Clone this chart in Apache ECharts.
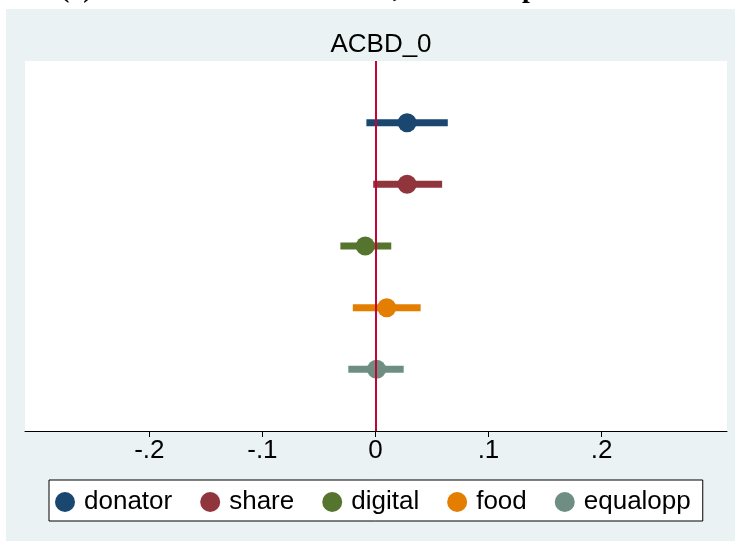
<!DOCTYPE html>
<html>
<head>
<meta charset="utf-8">
<script src="https://cdn.jsdelivr.net/npm/echarts@6/dist/echarts.min.js"></script>
<style>html,body{margin:0;padding:0;background:#fff;}#c{width:735px;height:541px;}</style>
</head>
<body>
<div id="c"></div>
<script>
// ---- data ----
const groups   = ['donator', 'share', 'digital', 'food', 'equalopp'];
const estimate = [0.028, 0.028, -0.009, 0.010, 0.001];
const ciLow    = [-0.008, -0.002, -0.031, -0.020, -0.024];
const ciHigh   = [0.064, 0.059, 0.014, 0.040, 0.025];
const rowPos   = [5, 4, 3, 2, 1];
const tickValues = [-0.2, -0.1, 0, 0.1, 0.2];
const tickLabels = ['-.2', '-.1', '0', '.1', '.2'];
const panelTitle = 'ACBD_0';
const colors = ['#1a476f', '#90353b', '#55752f', '#e37e00', '#6e8e84'];

const font = '"Liberation Sans", Arial, sans-serif';
const chart = echarts.init(document.getElementById('c'), null, {renderer: 'canvas'});

const series = [];
groups.forEach((g, i) => {
  series.push({
    type: 'custom',
    name: g + '_ci',
    data: [[ciLow[i], ciHigh[i], rowPos[i]]],
    renderItem: function (params, api) {
      const a = api.coord([api.value(0), api.value(2)]);
      const b = api.coord([api.value(1), api.value(2)]);
      return {
        type: 'rect',
        shape: {x: a[0], y: a[1] - 3.5, width: b[0] - a[0], height: 7},
        style: {fill: colors[i]}
      };
    },
    z: 3,
    silent: true
  });
});
groups.forEach((g, i) => {
  series.push({
    type: 'scatter',
    name: g,
    data: [[estimate[i], rowPos[i]]],
    symbol: 'circle',
    symbolSize: 19,
    itemStyle: {color: colors[i], opacity: 1},
    z: 4,
    silent: true
  });
});
// zero reference line
series.push({
  type: 'line',
  name: 'zero',
  data: [],
  markLine: {
    silent: true,
    symbol: 'none',
    label: {show: false},
    lineStyle: {color: '#c10534', width: 2, type: 'solid'},
    data: [{xAxis: 0}]
  },
  z: 2
});

const serif = 'bold 28px "Liberation Serif", serif';
chart.setOption({
  animation: false,
  backgroundColor: '#ffffff',
  graphic: [
    {type: 'rect', z: -10, shape: {x: 6, y: 9, width: 729, height: 532}, style: {fill: '#eaf2f3'}},
    {type: 'text', z: -11, x: 60, y: -24, style: {text: '(a)', font: serif, fill: '#000'}},
    {type: 'text', z: -11, x: 393, y: -24, style: {text: ',', font: serif, fill: '#000'}},
    {type: 'text', z: -11, x: 522, y: -24, style: {text: 'p', font: serif, fill: '#000'}}
  ],
  title: {
    text: panelTitle,
    left: 376, textAlign: 'center',
    top: 27,
    textStyle: {fontFamily: font, fontSize: 26, fontWeight: 'normal', color: '#000'}
  },
  grid: {
    left: 25, right: 8, top: 61, bottom: 110,
    show: true, backgroundColor: '#ffffff', borderWidth: 0
  },
  xAxis: {
    type: 'value',
    min: -0.31, max: 0.311,
    axisLine: {show: true, onZero: false, lineStyle: {color: '#000', width: 1}},
    axisTick: {show: true, customValues: tickValues, length: 6, lineStyle: {color: '#000'}},
    axisLabel: {
      customValues: tickValues,
      formatter: function (v) {
        const k = tickValues.findIndex(t => Math.abs(t - v) < 1e-9);
        return k >= 0 ? tickLabels[k] : '';
      },
      fontFamily: font, fontSize: 26, color: '#000', margin: 7
    },
    splitLine: {show: false}
  },
  yAxis: {
    type: 'value', min: 0, max: 6,
    show: false,
    splitLine: {show: false}
  },
  legend: {
    data: groups.map(g => ({name: g, icon: 'circle'})),
    left: 49, top: 480,
    itemWidth: 20, itemHeight: 20, itemGap: 28,
    padding: [9, 12, 6, 6],
    backgroundColor: '#ffffff',
    borderColor: '#000', borderWidth: 1,
    textStyle: {fontFamily: font, fontSize: 26, color: '#000', padding: [0, 0, 0, 4]},
    selectedMode: false
  },
  series: series
});
</script>
</body>
</html>
